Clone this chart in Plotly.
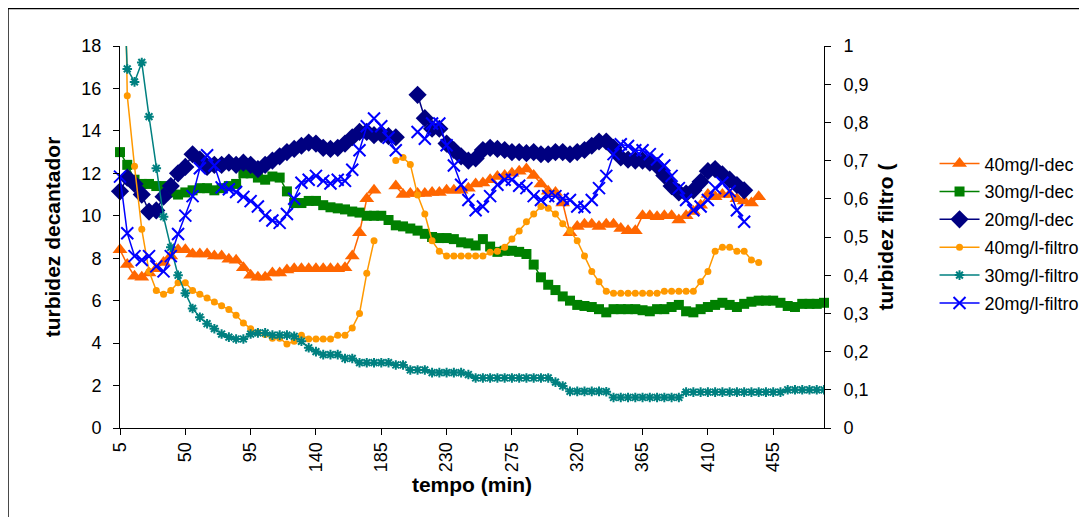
import plotly.graph_objects as go

# ---------------- data ----------------
tempo = list(range(5, 495, 5))          # 5 .. 490 min, 98 categories
x_tickvals = [5, 50, 95, 140, 185, 230, 275, 320, 365, 410, 455]
x_ticktext = ["5", "50", "95", "140", "185", "230", "275", "320", "365", "410", "455"]
yl_tickvals = [0, 2, 4, 6, 8, 10, 12, 14, 16, 18]
yr_tickvals = [0, 0.1, 0.2, 0.3, 0.4, 0.5, 0.6, 0.7, 0.8, 0.9, 1]
yr_ticktext = ["0", "0,1", "0,2", "0,3", "0,4", "0,5", "0,6", "0,7", "0,8", "0,9", "1"]

dec40 = [8.4, 7.7, 7.15, 7.1, 7.3, 7.5, 7.8, 8.1, 8.4, 8.4,
         8.2, 8.2, 8.2, 8.1, 8.1, 7.95, 7.9, 7.55, 7.2, 7.1,
         7.1, 7.3, 7.3, 7.45, 7.5, 7.5, 7.5, 7.5, 7.5, 7.5,
         7.5, 7.55, 8.1, 9.2, 10.8, 11.2, None, None, 11.4, 11.0,
         11.05, 11.05, 11.05, 11.1, 11.1, 11.2, 11.2, 11.2, 11.3, 11.5,
         11.55, 11.7, 11.85, 11.9, 12.0, 12.1, 12.2, 11.9, 11.5, 11.15,
         11.1, 10.6, 9.2, 9.5, 9.6, 9.6, 9.5, 9.6, 9.6, 9.4,
         9.3, 9.3, 10.0, 10.0, 9.95, 10.0, 10.0, 9.8, 10.0, 10.2,
         10.5, 11.0, 10.9, 11.0, 11.0, 10.8, 10.7, 10.6, 10.9] + [None] * 9

dec30 = [13.0, 12.4, 11.7, 11.5, 11.5, 11.4, 11.4, 11.1, 11.0, 11.1,
         11.2, 11.3, 11.3, 11.2, 11.3, 11.4, 11.5, 12.0, 12.0, 11.8,
         11.7, 11.85, 11.8, 11.15, 10.6, 10.6, 10.7, 10.7, 10.5, 10.4,
         10.35, 10.3, 10.2, 10.15, 10.0, 10.0, 10.0, 9.8, 9.55, 9.5,
         9.4, 9.3, 9.15, 9.0, 8.95, 8.95, 8.9, 8.75, 8.7, 8.6,
         8.9, 8.55, 8.3, 8.35, 8.35, 8.3, 8.2, 7.7, 7.1, 6.75,
         6.5, 6.2, 6.0, 5.8, 5.75, 5.7, 5.6, 5.45, 5.6, 5.6,
         5.6, 5.6, 5.55, 5.5, 5.6, 5.6, 5.7, 5.8, 5.5, 5.45,
         5.6, 5.7, 5.8, 5.9, 5.8, 5.7, 5.85, 5.95, 6.0, 6.0,
         6.0, 5.9, 5.75, 5.7, 5.85, 5.85, 5.85, 5.9]

dec20 = [11.15, 11.8, 11.5, 11.0, 10.2, 10.25, 10.9, 11.4, 12.0, 12.3,
         12.9, 12.65, 12.3, 12.4, 12.4, 12.5, 12.4, 12.5, 12.4, 12.2,
         12.4, 12.6, 12.8, 13.0, 13.15, 13.3, 13.45, 13.4, 13.2, 13.15,
         13.2, 13.4, 13.7, 13.95, 13.95, 13.8, 13.85, 13.75, 13.7, None,
         None, 15.7, 14.6, 14.1, 14.1, 13.4, 13.1, 12.8, 12.6, 12.7,
         13.1, 13.2, 13.15, 13.1, 13.0, 13.0, 12.95, 13.0, 12.9, 12.9,
         13.0, 13.0, 12.9, 13.0, 13.1, 13.3, 13.5, 13.5, 13.2, 12.75,
         12.65, 12.6, 12.6, 12.5, 12.35, 11.9, 11.4, 11.1, 11.05, 11.2,
         11.6, 12.1, 12.2, 11.95, 11.7, 11.45, 11.2] + [None] * 11

filtro40 = [2.0, 0.87, 0.685, 0.52, 0.41, 0.36, 0.35, 0.36, 0.38, 0.38,
            0.36, 0.35, 0.34, 0.33, 0.32, 0.31, 0.295, 0.275, 0.26, 0.25,
            0.245, 0.235, 0.235, 0.22, 0.227, 0.243, 0.233, 0.233, 0.233, 0.233,
            0.243, 0.243, 0.262, 0.30, 0.405, 0.49, None, None, 0.70, 0.708,
            0.69, 0.61, 0.56, 0.49, 0.463, 0.45, 0.45, 0.45, 0.45, 0.45,
            0.45, 0.46, 0.463, 0.473, 0.495, 0.516, 0.54, 0.56, 0.58, 0.575,
            0.56, 0.535, 0.516, 0.49, 0.45, 0.41, 0.383, 0.358, 0.353, 0.353,
            0.353, 0.353, 0.353, 0.353, 0.353, 0.358, 0.358, 0.358, 0.358, 0.358,
            0.383, 0.41, 0.463, 0.473, 0.473, 0.463, 0.463, 0.44, 0.433] + [None] * 9

filtro30 = [1.4, 0.94, 0.906, 0.957, 0.815, 0.68, 0.553, 0.473, 0.40, 0.353,
            0.313, 0.29, 0.273, 0.26, 0.246, 0.238, 0.233, 0.233, 0.246, 0.249,
            0.249, 0.243, 0.243, 0.243, 0.24, 0.227, 0.21, 0.2, 0.192, 0.192,
            0.192, 0.182, 0.182, 0.171, 0.171, 0.171, 0.171, 0.171, 0.165, 0.165,
            0.152, 0.152, 0.152, 0.145, 0.145, 0.145, 0.145, 0.145, 0.14, 0.131,
            0.131, 0.131, 0.131, 0.131, 0.131, 0.131, 0.131, 0.131, 0.131, 0.131,
            0.12, 0.11, 0.096, 0.096, 0.096, 0.096, 0.096, 0.095, 0.08, 0.08,
            0.08, 0.08, 0.08, 0.08, 0.08, 0.08, 0.08, 0.08, 0.094, 0.094,
            0.094, 0.094, 0.094, 0.094, 0.094, 0.094, 0.094, 0.094, 0.094, 0.094,
            0.094, 0.094, 0.1, 0.1, 0.1, 0.1, 0.1, 0.1]

filtro20 = [0.658, 0.51, 0.45, 0.44, 0.45, 0.423, 0.41, 0.45, 0.508, 0.556,
            0.607, 0.68, 0.714, 0.687, 0.63, 0.625, 0.618, 0.605, 0.594, 0.58,
            0.556, 0.543, 0.537, 0.56, 0.6, 0.642, 0.65, 0.66, 0.647, 0.64,
            0.65, 0.647, 0.676, 0.727, 0.79, 0.81, 0.79, 0.76, 0.727, None,
            None, 0.775, 0.757, 0.797, 0.797, 0.74, 0.687, 0.637, 0.597, 0.57,
            0.58, 0.607, 0.637, 0.65, 0.65, 0.634, 0.628, 0.607, 0.597, 0.607,
            0.607, 0.6, 0.597, 0.58, 0.578, 0.597, 0.628, 0.66, 0.717, 0.743,
            0.738, 0.727, 0.727, 0.717, 0.703, 0.687, 0.66, 0.628, 0.597, 0.57,
            0.58, 0.597, 0.628, 0.642, 0.62, 0.57, 0.54] + [None] * 11

FONT = "Liberation Sans, Arial, sans-serif"

fig = go.Figure()

def add(name, y, color, symbol, size, axis, mline=None, clip=False, lw=1.5):
    marker = dict(symbol=symbol, size=size, color=color)
    if mline is not None:
        marker["line"] = dict(color=color, width=mline)
    fig.add_trace(go.Scatter(
        x=tempo, y=y, name=name, mode="lines+markers",
        line=dict(color=color, width=lw), marker=marker,
        yaxis=axis, connectgaps=False, cliponaxis=clip,
        legendgroup=name,
    ))

add("40mg/l-dec", dec40, "#FF6600", "triangle-up", 13, "y")
add("30mg/l-dec", dec30, "#008000", "square", 10, "y")
add("20mg/l-dec", dec20, "#000080", "diamond", 14, "y")
add("40mg/l-filtro", filtro40, "#FF9900", "circle", 7, "y2", clip=True)
add("30mg/l-filtro", filtro30, "#008080", "asterisk-open", 8, "y2", mline=2, clip=True)
add("20mg/l-filtro", filtro20, "#0000FF", "x-thin-open", 12, "y2", mline=2)

tickfont = dict(family=FONT, size=18, color="black")
titlefont = dict(family=FONT, size=21, color="black", weight="bold")

fig.update_layout(
    width=1079, height=509, autosize=False,
    margin=dict(l=112, r=263, t=38, b=89, autoexpand=False),
    paper_bgcolor="white", plot_bgcolor="white",
    font=dict(family=FONT, color="black"),
    showlegend=True,
    legend=dict(x=1.157, y=0.74, xanchor="left", yanchor="top",
                font=dict(family=FONT, size=18, color="black"),
                itemwidth=40,
                tracegroupgap=1.5, bgcolor="rgba(0,0,0,0)"),
    xaxis=dict(range=[5, 490], tickvals=x_tickvals, ticktext=x_ticktext,
               tickangle=-90, ticks="outside", ticklen=6, tickcolor="black",
               showline=True, linecolor="black", linewidth=1, showgrid=False,
               zeroline=False, tickfont=tickfont,
               title=dict(text="tempo (min)", font=titlefont, standoff=6)),
    xaxis2=dict(range=[5, 490], tickvals=x_tickvals, overlaying="x", anchor="y",
                side="bottom", ticks="inside", ticklen=6, tickcolor="black",
                showticklabels=False, showline=False, showgrid=False, zeroline=False),
    yaxis=dict(range=[0, 18], tickvals=yl_tickvals, ticks="outside", ticklen=6,
               tickcolor="black", showline=True, linecolor="black", linewidth=1,
               showgrid=False, zeroline=False, tickfont=tickfont,
               ticklabelstandoff=8,
               title=dict(text="turbidez decantador", font=titlefont, standoff=15)),
    yaxis2=dict(range=[0, 1], tickvals=yr_tickvals, ticktext=yr_ticktext,
                overlaying="y", side="right", anchor="x", ticks="outside", ticklen=6,
                tickcolor="black", showline=True, linecolor="black", linewidth=1,
                showgrid=False, zeroline=False, tickfont=tickfont,
                ticklabelstandoff=9,
                title=dict(text="turbidez filtro (", font=titlefont, standoff=10)),
    yaxis3=dict(range=[0, 18], tickvals=yl_tickvals, overlaying="y", side="left",
                anchor="x", ticks="inside", ticklen=6, tickcolor="black",
                showticklabels=False, showline=False, showgrid=False, zeroline=False),
    yaxis4=dict(range=[0, 1], tickvals=yr_tickvals, overlaying="y", side="right",
                anchor="x", ticks="inside", ticklen=6, tickcolor="black",
                showticklabels=False, showline=False, showgrid=False, zeroline=False),
    shapes=[dict(type="rect", xref="paper", yref="paper",
                 x0=-0.1595, x1=1.41, y0=-0.29, y1=1.0985,
                 line=dict(color="black", width=2), fillcolor="rgba(0,0,0,0)",
                 layer="below")],
)

fig.write_html("out.html")
